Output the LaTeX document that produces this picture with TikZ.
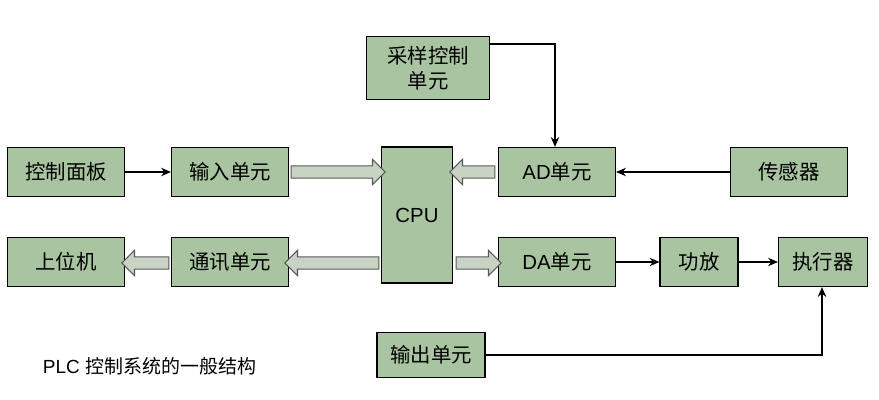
\documentclass[tikz,border=0pt]{standalone}
\usepackage{fontspec}
\setmainfont{Liberation Sans}
\newfontfamily\cjk{Noto Sans CJK SC}
\usetikzlibrary{positioning,arrows.meta,shapes.arrows,calc}
\definecolor{boxgreen}{HTML}{A9C4A0}
\definecolor{fatgray}{HTML}{C9D3C4}

\begin{document}
\begin{tikzpicture}[x=0.025cm, y=-0.025cm,
  unit/.style={draw=black, thick, fill=boxgreen, font=\cjk\fontsize{14.5}{18}\selectfont,
               minimum width=117*0.025cm, minimum height=49*0.025cm, align=center},
  link/.style={-{Stealth[length=7pt,width=6pt]}, thick},
  fat/.style={single arrow, draw=gray!70!black, fill=fatgray, thick, inner xsep=0pt,
              inner ysep=0.14cm, single arrow head extend=0.16cm, single arrow head indent=0pt}]

  \useasboundingbox (0,0) rectangle (879,400);

  % boxes
  \node[unit, minimum width=123*0.025cm, minimum height=63*0.025cm] (sample) at (428,68) {采样控制\\单元};
  \node[unit] (panel) at (66,172) {控制面板};
  \node[unit] (input) at (230,172) {输入单元};
  \node[unit, minimum width=71*0.025cm, minimum height=136*0.025cm, font=\fontsize{14.5}{18}\selectfont] (cpu) at (417,215) {CPU};
  \node[unit] (ad) at (557,172) {{\fontspec{Liberation Sans}AD}单元};
  \node[unit] (sensor) at (789,172) {传感器};
  \node[unit] (host) at (66,262) {上位机};
  \node[unit] (comm) at (230,262) {通讯单元};
  \node[unit] (da) at (557,262) {{\fontspec{Liberation Sans}DA}单元};
  \node[unit, minimum width=78*0.025cm] (amp) at (699,262) {功放};
  \node[unit, minimum width=89*0.025cm] (act) at (823,262) {执行器};
  \node[unit, minimum width=108*0.025cm, minimum height=45*0.025cm] (output) at (431,355) {输出单元};

  \node[anchor=west, font=\fontsize{13.5}{16}\selectfont] (caption) at (38,366) {PLC {\cjk 控制系统的一般结构}};

  % fat arrows
  \node[fat, minimum height=94*0.025cm] (f1) at (335,172) {};
  \node[fat, minimum height=45*0.025cm, shape border rotate=180] (f2) at (475.5,172) {};
  \node[fat, minimum height=94*0.025cm, shape border rotate=180] (f3) at (335,263) {};
  \node[fat, minimum height=47*0.025cm, shape border rotate=180] (f4) at (148.5,263) {};
  \node[fat, minimum height=45*0.025cm] (f5) at (475.5,263) {};

  % thin arrows
  \coordinate (corner) at (822,355);
  \draw[link] (panel) -- (input);
  \draw[link] (sensor) -- (ad);
  \draw[link] (sample.east |- 0,44) -| (ad.north -| 555,0);
  \draw[link] (da) -- (amp);
  \draw[link] (amp) -- (act);
  \draw[link] (output) -- (corner) -- (act.south -| corner);

\end{tikzpicture}
\end{document}
